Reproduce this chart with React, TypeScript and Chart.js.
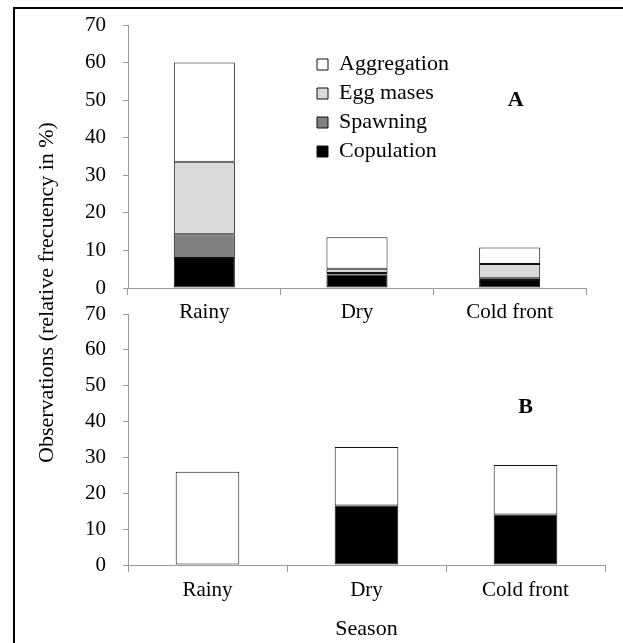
import React, { useEffect, useRef } from "react";
import { Chart, registerables } from "chart.js";

Chart.register(...registerables);

// ---------- data ----------
const seasons = ["Rainy", "Dry", "Cold front"];

// Panel A (stacked, % of observations)
const copulationA = [8, 3.6, 2.1];
const spawningA = [6.3, 0.4, 0.5];
const eggMassesA = [19.3, 1.1, 3.8];
const aggregationA = [26.4, 8.4, 4.4];

// Panel B
const copulationB = [0, 16.6, 14.1];
const aggregationB = [26, 16.3, 13.8];

const yMin = 0;
const yMax = 70;
const yStep = 10;

const yTitle = "Observations (relative frecuency in %)";
const xTitle = "Season";
const panelLabels = ["A", "B"];
// panel letter anchor in data units (category index, value)
const panelLabelAnchors = [
  { x: 2.04, y: 50 },
  { x: 2.0, y: 44 },
];

// ---------- styles ----------
const FAMILY = "'Liberation Serif', 'Times New Roman', serif";
const AXIS = "#9a9a9a";
const TICK_FONT = { family: FAMILY, size: 21, weight: "normal" as const, lineHeight: 1.2 };
const BIG_FONT = { family: FAMILY, size: 22, weight: "normal" as const, lineHeight: 1.2 };

const COLORS = {
  copulation: "#000000",
  spawning: "#808080",
  egg: "#d9d9d9",
  aggregation: "#ffffff",
};

const LEGEND_X = 310;
const LEGEND_Y = 46.5;

const legendPlacer = {
  id: "legendPlacer",
  afterLayout(chart: any) {
    const lg = chart.legend;
    if (!lg) return;
    const w = lg.width;
    lg.left = LEGEND_X;
    lg.top = LEGEND_Y;
    lg.right = LEGEND_X + w;
    lg.bottom = LEGEND_Y + 300;
  },
};

function makePanelLabel(text: string, anchor: { x: number; y: number }) {
  return {
    id: "panelLabel" + text,
    afterDraw(chart: any) {
      const { ctx, scales } = chart;
      const px = scales.x.getPixelForValue(anchor.x);
      const py = scales.y.getPixelForValue(anchor.y);
      ctx.save();
      ctx.font = `bold 22px ${FAMILY}`;
      ctx.fillStyle = "#000";
      ctx.textAlign = "center";
      ctx.textBaseline = "middle";
      ctx.fillText(text, px, py);
      ctx.restore();
    },
  };
}

const barDefaults = {
  categoryPercentage: 1,
  barPercentage: 0.4,
  borderColor: "#111111",
  borderWidth: 1,
  borderSkipped: false as const,
};

function yScale(widthPx: number) {
  return {
    stacked: true,
    min: yMin,
    max: yMax,
    ticks: { stepSize: yStep, color: "#000", font: TICK_FONT, padding: 17 },
    grid: { drawOnChartArea: false, drawTicks: true, tickLength: 5, color: AXIS, lineWidth: 1 },
    border: { display: true, color: AXIS, width: 1 },
    afterFit: (s: any) => {
      s.width = widthPx;
      s.paddingTop = 8;
      s.paddingBottom = 8;
    },
  };
}

function xScale(heightPx: number, padding: number, title?: any) {
  return {
    stacked: true,
    ticks: { color: "#000", font: TICK_FONT, padding, maxRotation: 0 },
    grid: { offset: true, drawOnChartArea: false, drawTicks: true, tickLength: 7, color: AXIS, lineWidth: 1 },
    border: { display: true, color: AXIS, width: 1 },
    title: title || { display: false },
    afterFit: (s: any) => {
      s.height = heightPx;
    },
  };
}

export default function App() {
  const refA = useRef<HTMLCanvasElement>(null);
  const refB = useRef<HTMLCanvasElement>(null);

  useEffect(() => {
    if (!refA.current || !refB.current) return;

    const chartA = new Chart(refA.current, {
      type: "bar",
      data: {
        labels: seasons,
        datasets: [
          { label: "Copulation", data: copulationA, backgroundColor: COLORS.copulation, ...barDefaults },
          { label: "Spawning", data: spawningA, backgroundColor: COLORS.spawning, ...barDefaults },
          { label: "Egg mases", data: eggMassesA, backgroundColor: COLORS.egg, ...barDefaults },
          { label: "Aggregation", data: aggregationA, backgroundColor: COLORS.aggregation, ...barDefaults },
        ],
      },
      options: {
        responsive: false,
        animation: false,
        layout: { padding: { left: 0, right: 37, top: 25, bottom: 0 } },
        plugins: {
          legend: {
            position: "chartArea" as any,
            align: "start",
            reverse: true,
            labels: {
              boxWidth: 11,
              boxHeight: 11,
              padding: 7,
              color: "#000",
              font: BIG_FONT,
            },
          },
          title: {
            display: true,
            position: "left",
            text: yTitle,
            color: "#000",
            font: BIG_FONT,
            padding: { top: 34, bottom: 0 },
          },
          tooltip: { enabled: false },
        },
        scales: {
          x: xScale(272, 5) as any,
          y: yScale(67.6) as any,
        },
      },
      plugins: [legendPlacer, makePanelLabel(panelLabels[0], panelLabelAnchors[0])],
    });

    const chartB = new Chart(refB.current, {
      type: "bar",
      data: {
        labels: seasons,
        datasets: [
          { label: "Copulation", data: copulationB, backgroundColor: COLORS.copulation, ...barDefaults },
          { label: "Aggregation", data: aggregationB, backgroundColor: COLORS.aggregation, ...barDefaults },
        ],
      },
      options: {
        responsive: false,
        animation: false,
        layout: { padding: { left: 0, right: 18, top: 14, bottom: 0 } },
        plugins: {
          legend: { display: false },
          title: { display: false },
          tooltip: { enabled: false },
        },
        scales: {
          x: xScale(78, 6, {
            display: true,
            text: xTitle,
            color: "#000",
            font: BIG_FONT,
            padding: { top: 0, bottom: 1 },
          }) as any,
          y: yScale(128) as any,
        },
      },
      plugins: [makePanelLabel(panelLabels[1], panelLabelAnchors[1])],
    });

    return () => {
      chartA.destroy();
      chartB.destroy();
    };
  }, []);

  return (
    <div
      style={{
        position: "absolute",
        left: 0,
        top: 0,
        width: 623,
        height: 643,
        background: "#ffffff",
        overflow: "hidden",
      }}
    >
      <div
        style={{
          position: "absolute",
          left: 13,
          top: 7,
          width: 700,
          height: 700,
          borderTop: "2px solid #000",
          borderLeft: "2px solid #000",
        }}
      />
      <canvas
        ref={refB}
        width={623}
        height={343}
        style={{ position: "absolute", left: 0, top: 300, width: 623, height: 343 }}
      />
      <canvas
        ref={refA}
        width={623}
        height={560}
        style={{ position: "absolute", left: 0, top: 0, width: 623, height: 560 }}
      />
    </div>
  );
}
